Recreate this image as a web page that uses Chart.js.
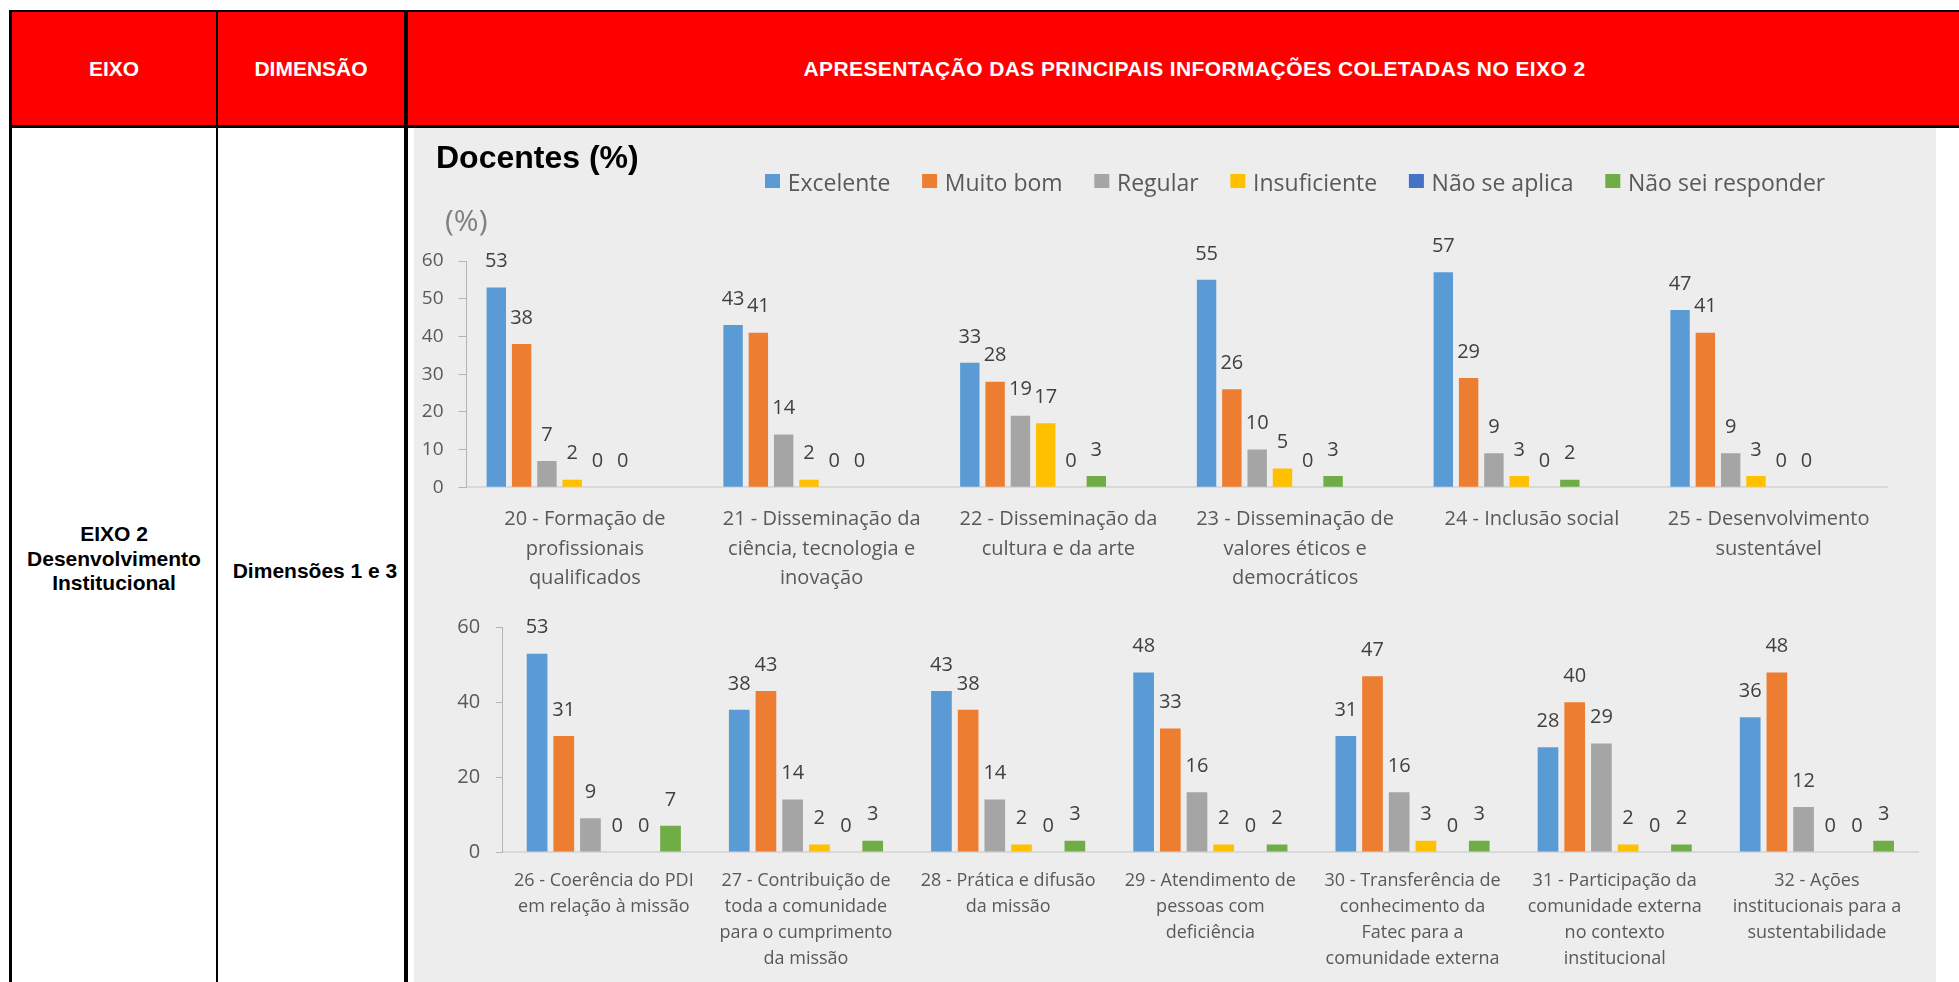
<!DOCTYPE html>
<html lang="pt-BR">
<head>
<meta charset="utf-8">
<title>Eixo 2 - Docentes (%)</title>
<script src="https://cdn.jsdelivr.net/npm/chart.js@4.4.1/dist/chart.umd.min.js"></script>
<style>
  html, body { margin: 0; padding: 0; background: #ffffff; }
  body { position: relative; width: 1959px; height: 982px; overflow: hidden;
         font-family: "Liberation Sans", Arial, sans-serif; }
  .box { position: absolute; }
  .line { position: absolute; background: #000; }
  .cell { position: absolute; font-weight: bold; font-size: 21px; line-height: 24px;
          text-align: center; white-space: nowrap; color: #000; }
  .head { color: #fff; }
  canvas { position: absolute; }
</style>
</head>
<body>
  <div class="box" style="left:9px;top:10px;width:1950px;height:118px;background:#ff0000"></div>
  <div class="box" style="left:414px;top:128px;width:1522px;height:854px;background:#ededed"></div>
  <div class="line" style="left:9px;top:10px;width:1950px;height:2px"></div>
  <div class="line" style="left:9px;top:125px;width:1950px;height:3px"></div>
  <div class="line" style="left:9px;top:10px;width:3px;height:972px"></div>
  <div class="line" style="left:216px;top:10px;width:2px;height:972px"></div>
  <div class="line" style="left:404px;top:10px;width:4px;height:972px"></div>

  <div class="cell head" style="left:12px;width:204px;top:57px">EIXO</div>
  <div class="cell head" style="left:218px;width:186px;top:57px">DIMENSÃO</div>
  <div class="cell head" style="left:408px;width:1573px;top:57px;letter-spacing:0.4px">APRESENTAÇÃO DAS PRINCIPAIS INFORMAÇÕES COLETADAS NO EIXO 2</div>
  <div class="cell" style="left:12px;width:204px;top:522px;line-height:24.5px">EIXO 2<br>Desenvolvimento<br>Institucional</div>
  <div class="cell" style="left:222px;width:186px;top:559px">Dimensões 1 e 3</div>

  <canvas id="chartTop" width="1522" height="472" style="left:414px;top:128px"></canvas>
  <canvas id="chartBottom" width="1522" height="382" style="left:414px;top:600px"></canvas>

<script>
// series
const seriesNames = ['Excelente', 'Muito bom', 'Regular', 'Insuficiente', 'Não se aplica', 'Não sei responder'];
const seriesColors = ['#5b9bd5', '#ed7d31', '#a5a5a5', '#ffc000', '#4472c4', '#70ad47'];

// upper chart: questions 20-25
const topCategories = [
    ['20 - Formação de', 'profissionais', 'qualificados'],
    ['21 - Disseminação da', 'ciência, tecnologia e', 'inovação'],
    ['22 - Disseminação da', 'cultura e da arte'],
    ['23 - Disseminação de', 'valores éticos e', 'democráticos'],
    ['24 - Inclusão social'],
    ['25 - Desenvolvimento', 'sustentável']
];
const topExcelente    = [53, 43, 33, 55, 57, 47];
const topMuitoBom     = [38, 41, 28, 26, 29, 41];
const topRegular      = [7, 14, 19, 10, 9, 9];
const topInsuficiente = [2, 2, 17, 5, 3, 3];
const topNaoSeAplica  = [0, 0, 0, 0, 0, 0];
const topNaoSei       = [0, 0, 3, 3, 2, 0];
// the original chart keeps two empty series after the six above
const topEmpty        = [null, null, null, null, null, null];

// lower chart: questions 26-32
const bottomCategories = [
    ['26 - Coerência do PDI', 'em relação à missão'],
    ['27 - Contribuição de', 'toda a comunidade', 'para o cumprimento', 'da missão'],
    ['28 - Prática e difusão', 'da missão'],
    ['29 - Atendimento de', 'pessoas com', 'deficiência'],
    ['30 - Transferência de', 'conhecimento da', 'Fatec para a', 'comunidade externa'],
    ['31 - Participação da', 'comunidade externa', 'no contexto', 'institucional'],
    ['32 - Ações', 'institucionais para a', 'sustentabilidade']
];
const bottomExcelente    = [53, 38, 43, 48, 31, 28, 36];
const bottomMuitoBom     = [31, 43, 38, 33, 47, 40, 48];
const bottomRegular      = [9, 14, 14, 16, 16, 29, 12];
const bottomInsuficiente = [0, 2, 2, 2, 3, 2, 0];
const bottomNaoSeAplica  = [0, 0, 0, 0, 0, 0, 0];
const bottomNaoSei       = [7, 3, 3, 2, 3, 2, 3];

const yMax = 60;

Chart.defaults.font.family = '"Open Sans", "Noto Sans", sans-serif';
Chart.defaults.color = '#595959';

// numbers above the bars
const valueLabels = {
    id: 'valueLabels',
    afterDatasetsDraw(chart, args, opts) {
        const ctx = chart.ctx;
        ctx.save();
        ctx.font = opts.size + 'px "Open Sans"';
        ctx.fillStyle = opts.color;
        ctx.textAlign = 'center';
        ctx.textBaseline = 'middle';
        chart.data.datasets.forEach((ds, i) => {
            if (!ds.label) return;
            chart.getDatasetMeta(i).data.forEach((bar, j) => {
                ctx.fillText(String(ds.data[j]), bar.x, bar.y - opts.offset);
            });
        });
        ctx.restore();
    }
};

// title, unit and legend of the upper chart, placed like the spreadsheet
const headerBox = {
    id: 'headerBox',
    afterDraw(chart, args, o) {
        const ctx = chart.ctx;
        const a = chart.chartArea;
        ctx.save();
        ctx.textAlign = 'left';
        ctx.textBaseline = 'alphabetic';

        ctx.font = 'bold 32px "Liberation Sans", Arial, sans-serif';
        ctx.fillStyle = '#000000';
        ctx.fillText(o.title, a.left - 30.5, a.top - 93.3);

        ctx.font = '30px "Open Sans"';
        ctx.fillStyle = '#808080';
        ctx.fillText(o.unit, a.left - 21.5, a.top - 30);

        ctx.font = '23px "Open Sans"';
        let x = a.left + 298.5;
        const y = a.top - 87;
        chart.data.datasets.forEach(ds => {
            if (!ds.label) return;
            ctx.fillStyle = ds.backgroundColor;
            ctx.fillRect(x, y, 15, 14);
            ctx.fillStyle = '#595959';
            ctx.fillText(ds.label, x + 22.7, y + 17);
            x += 22.7 + ctx.measureText(ds.label).width + 31.7;
        });
        ctx.restore();
    }
};

function buildDatasets(lists, empties) {
    const sets = lists.map((values, i) => ({
        label: seriesNames[i],
        data: values,
        backgroundColor: seriesColors[i]
    }));
    empties.forEach(values => sets.push({ label: '', data: values, backgroundColor: 'transparent' }));
    return sets;
}

function barOptions(p) {
    return {
        responsive: false,
        animation: false,
        events: [],
        datasets: { bar: { categoryPercentage: p.catPct, barPercentage: p.barPct } },
        layout: { padding: { top: p.padTop, right: p.padRight, bottom: 0, left: 0 } },
        plugins: {
            legend: { display: false },
            tooltip: { enabled: false },
            valueLabels: { size: 20, color: '#404040', offset: 26 },
            headerBox: { title: 'Docentes (%)', unit: '(%)' }
        },
        scales: {
            x: {
                grid: { display: false, drawTicks: false },
                border: { color: '#d9d9d9', width: 2 },
                ticks: {
                    autoSkip: false, maxRotation: 0, minRotation: 0,
                    padding: p.xPad, color: '#595959',
                    font: { size: p.xFont, lineHeight: p.xLine }
                },
                afterFit: s => { s.height = p.xHeight; }
            },
            y: {
                min: 0, max: yMax,
                grid: { drawOnChartArea: false, color: '#b4b4b4', tickLength: p.tick },
                border: { color: '#b4b4b4', width: 1 },
                ticks: { stepSize: p.step, padding: p.yPad, color: '#595959', font: { size: p.yFont } },
                afterFit: s => { s.width = p.yWidth; }
            }
        }
    };
}

new Chart(document.getElementById('chartTop'), {
    type: 'bar',
    data: {
        labels: topCategories,
        datasets: buildDatasets(
            [topExcelente, topMuitoBom, topRegular, topInsuficiente, topNaoSeAplica, topNaoSei],
            [topEmpty, topEmpty])
    },
    options: barOptions({
        catPct: 0.855, barPct: 0.767, padTop: 133, padRight: 49,
        xPad: 17.25, xFont: 20, xLine: 1.475, xHeight: 112.7,
        tick: 8, step: 10, yPad: 15, yFont: 19, yWidth: 52.5
    }),
    plugins: [valueLabels, headerBox]
});

new Chart(document.getElementById('chartBottom'), {
    type: 'bar',
    data: {
        labels: bottomCategories,
        datasets: buildDatasets(
            [bottomExcelente, bottomMuitoBom, bottomRegular, bottomInsuficiente, bottomNaoSeAplica, bottomNaoSei],
            [])
    },
    options: barOptions({
        catPct: 0.792, barPct: 0.775, padTop: 24, padRight: 18,
        xPad: 16, xFont: 18, xLine: 1.444, xHeight: 130,
        tick: 7, step: 20, yPad: 15.5, yFont: 20, yWidth: 88.7
    }),
    plugins: [valueLabels]
});
</script>
</body>
</html>
